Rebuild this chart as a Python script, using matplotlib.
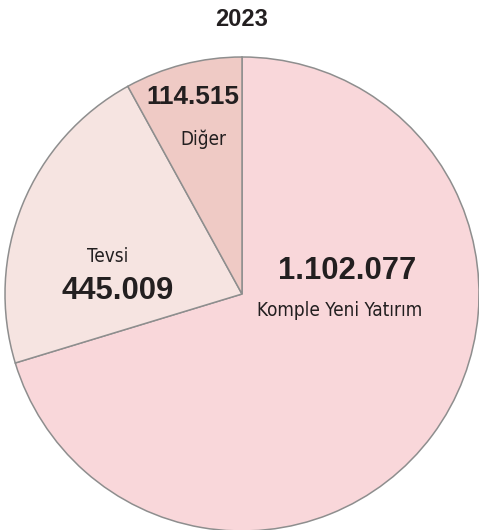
import matplotlib.pyplot as plt

# slices, clockwise from 12 o'clock
labels = ['Komple Yeni Yatırım', 'Tevsi', 'Diğer']
values = ['1.102.077', '445.009', '114.515']
# slice sizes as drawn in the picture (percent of the circle)
shares = [70.3, 21.7, 8.0]
colors = ['#f9d7da', '#f6e4e1', '#efcac5']
title = '2023'

W, H = 479, 530

fig = plt.figure(figsize=(W / 100, H / 100), dpi=100)
ax = fig.add_axes([0, 0, 1, 1])
ax.axis('off')

ax.pie(shares, colors=colors, startangle=90, counterclock=False,
       center=(242, H - 294), radius=237,
       wedgeprops=dict(edgecolor='#8e8e8e', linewidth=1.1))
ax.set_xlim(0, W)
ax.set_ylim(0, H)
ax.set_aspect('equal')

num_font = dict(family='Liberation Sans', weight='bold', color='#231f20')
lab_font = dict(family='DejaVu Sans', fontstretch='condensed', color='#231f20')

# Komple Yeni Yatırım
ax.text(347, H - 271, values[0], fontsize=22.3, ha='center', va='center', **num_font)
ax.text(340, H - 310, labels[0], fontsize=13.6, ha='center', va='center', **lab_font)
# Tevsi
ax.text(108, H - 256, labels[1], fontsize=13.6, ha='center', va='center', **lab_font)
ax.text(118, H - 291, values[1], fontsize=22.3, ha='center', va='center', **num_font)
# Diğer
ax.text(193, H - 97, values[2], fontsize=18.8, ha='center', va='center', **num_font)
ax.text(203, H - 139, labels[2], fontsize=13.6, ha='center', va='center', **lab_font)

ax.text(242, H - 19, title, fontsize=17, ha='center', va='center', **num_font)

fig.savefig('out.png', dpi=100)
